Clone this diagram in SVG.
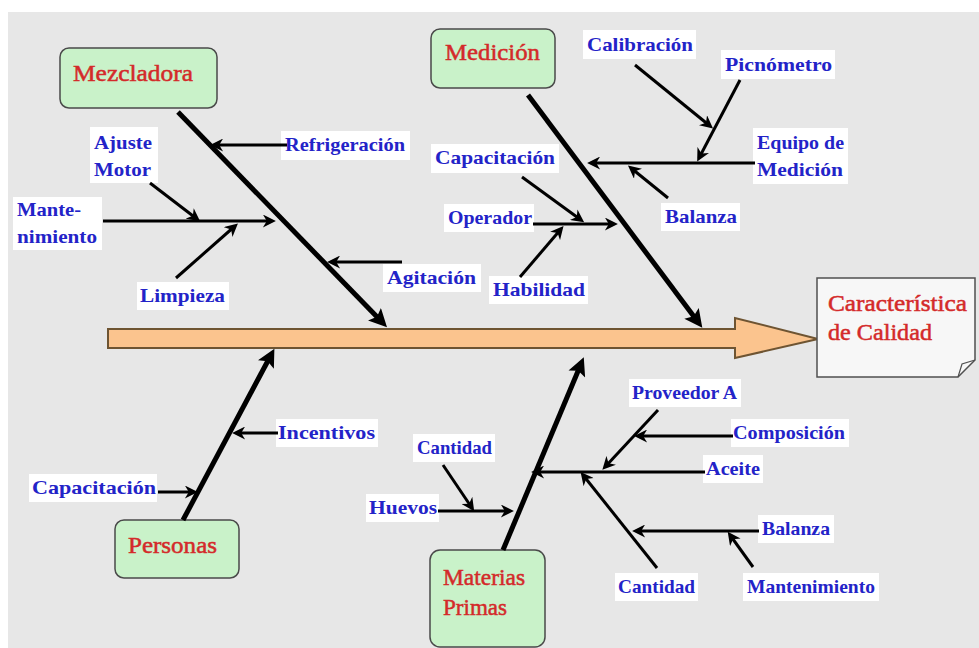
<svg xmlns="http://www.w3.org/2000/svg" width="979" height="648" viewBox="0 0 979 648">
<defs>
<style>
.lbl{font-family:"Liberation Serif","Times New Roman",serif;font-size:19px;font-weight:bold;fill:#2323c8}
.ttl{font-family:"Liberation Serif","Times New Roman",serif;font-size:23px;fill:#d42a2a;stroke:#d42a2a;stroke-width:0.5}
.bg{fill:#ffffff}
.box{fill:#c9f2c9;stroke:#4a4a4a;stroke-width:1.5}
.sub{stroke:#000;stroke-width:3;fill:none;marker-end:url(#ah)}
.main{stroke:#000;stroke-width:5;fill:none;marker-end:url(#ahb)}
</style>
<marker id="ah" viewBox="0 0 10 10" refX="7" refY="5" markerWidth="14" markerHeight="13" markerUnits="userSpaceOnUse" orient="auto"><path d="M0,0 L10,5 L0,10 L3,5 Z" fill="#000"/></marker>
<marker id="ahb" viewBox="0 0 10 10" refX="6" refY="5" markerWidth="20" markerHeight="18" markerUnits="userSpaceOnUse" orient="auto"><path d="M0,0 L10,5 L0,10 L2,5 Z" fill="#000"/></marker>
</defs>
<rect x="0" y="0" width="979" height="648" fill="#ffffff"/>
<rect x="8" y="12" width="971" height="636" fill="#e7e7e7"/>

<g id="spine">
<path d="M108,329 H735 V318 L818,339 L735,358 V348 H108 Z" fill="#fbc48e" stroke="#6e5432" stroke-width="2"/>
</g>

<g id="effect">
<path d="M817,278 H975 V360 L958,377 H817 Z" fill="#f7f7f7" stroke="#505050" stroke-width="1.5"/>
<path d="M958,377 L962,364 L975,360" fill="none" stroke="#505050" stroke-width="1.2"/>
<text class="ttl" x="828" y="311" textLength="139" lengthAdjust="spacingAndGlyphs">Característica</text>
<text class="ttl" x="828" y="340" textLength="104" lengthAdjust="spacingAndGlyphs">de Calidad</text>
</g>

<g id="mezcladora">
<rect class="box" x="60" y="48" width="157" height="60" rx="9"/>
<text class="ttl" x="73" y="81" textLength="120" lengthAdjust="spacingAndGlyphs">Mezcladora</text>
</g>
<g id="medicion">
<rect class="box" x="431" y="29" width="124" height="59" rx="9"/>
<text class="ttl" x="445" y="60" textLength="95" lengthAdjust="spacingAndGlyphs">Medición</text>
</g>
<g id="personas">
<rect class="box" x="115" y="520" width="124" height="58" rx="9"/>
<text class="ttl" x="128" y="553" textLength="89" lengthAdjust="spacingAndGlyphs">Personas</text>
</g>
<g id="materias">
<rect class="box" x="430" y="550" width="115" height="97" rx="10"/>
<text class="ttl" x="443" y="585" textLength="82" lengthAdjust="spacingAndGlyphs">Materias</text>
<text class="ttl" x="443" y="615" textLength="64" lengthAdjust="spacingAndGlyphs">Primas</text>
</g>

<g id="labels">
<rect class="bg" x="281" y="131" width="129" height="29"/>
<text class="lbl" x="285" y="151" textLength="120" lengthAdjust="spacingAndGlyphs">Refrigeración</text>
<rect class="bg" x="90" y="127" width="68" height="56"/>
<text class="lbl" x="94" y="149" textLength="58" lengthAdjust="spacingAndGlyphs">Ajuste</text>
<text class="lbl" x="94" y="176" textLength="57" lengthAdjust="spacingAndGlyphs">Motor</text>
<rect class="bg" x="13" y="197" width="89" height="53"/>
<text class="lbl" x="17" y="216" textLength="64" lengthAdjust="spacingAndGlyphs">Mante-</text>
<text class="lbl" x="17" y="243" textLength="80" lengthAdjust="spacingAndGlyphs">nimiento</text>
<rect class="bg" x="137" y="282" width="92" height="28"/>
<text class="lbl" x="140" y="302" textLength="85" lengthAdjust="spacingAndGlyphs">Limpieza</text>
<rect class="bg" x="383" y="264" width="98" height="28"/>
<text class="lbl" x="387" y="284" textLength="89" lengthAdjust="spacingAndGlyphs">Agitación</text>
<rect class="bg" x="583" y="30" width="113" height="29"/>
<text class="lbl" x="587" y="51" textLength="106" lengthAdjust="spacingAndGlyphs">Calibración</text>
<rect class="bg" x="721" y="50" width="114" height="29"/>
<text class="lbl" x="725" y="71" textLength="107" lengthAdjust="spacingAndGlyphs">Picnómetro</text>
<rect class="bg" x="753" y="128" width="95" height="56"/>
<text class="lbl" x="757" y="149" textLength="87" lengthAdjust="spacingAndGlyphs">Equipo de</text>
<text class="lbl" x="757" y="176" textLength="86" lengthAdjust="spacingAndGlyphs">Medición</text>
<rect class="bg" x="431" y="144" width="128" height="29"/>
<text class="lbl" x="435" y="164" textLength="120" lengthAdjust="spacingAndGlyphs">Capacitación</text>
<rect class="bg" x="444" y="204" width="90" height="28"/>
<text class="lbl" x="448" y="224" textLength="84" lengthAdjust="spacingAndGlyphs">Operador</text>
<rect class="bg" x="661" y="203" width="79" height="28"/>
<text class="lbl" x="665" y="223" textLength="72" lengthAdjust="spacingAndGlyphs">Balanza</text>
<rect class="bg" x="489" y="276" width="99" height="28"/>
<text class="lbl" x="493" y="296" textLength="92" lengthAdjust="spacingAndGlyphs">Habilidad</text>
<rect class="bg" x="276" y="419" width="102" height="28"/>
<text class="lbl" x="278" y="439" textLength="97" lengthAdjust="spacingAndGlyphs">Incentivos</text>
<rect class="bg" x="29" y="474" width="128" height="28"/>
<text class="lbl" x="32" y="494" textLength="124" lengthAdjust="spacingAndGlyphs">Capacitación</text>
<rect class="bg" x="413" y="434" width="82" height="28"/>
<text class="lbl" x="417" y="454" textLength="75" lengthAdjust="spacingAndGlyphs">Cantidad</text>
<rect class="bg" x="366" y="494" width="73" height="28"/>
<text class="lbl" x="369" y="514" textLength="68" lengthAdjust="spacingAndGlyphs">Huevos</text>
<rect class="bg" x="629" y="379" width="112" height="28"/>
<text class="lbl" x="632" y="399" textLength="105" lengthAdjust="spacingAndGlyphs">Proveedor A</text>
<rect class="bg" x="731" y="419" width="118" height="28"/>
<text class="lbl" x="733" y="439" textLength="112" lengthAdjust="spacingAndGlyphs">Composición</text>
<rect class="bg" x="703" y="455" width="60" height="28"/>
<text class="lbl" x="706" y="475" textLength="54" lengthAdjust="spacingAndGlyphs">Aceite</text>
<rect class="bg" x="758" y="515" width="76" height="28"/>
<text class="lbl" x="762" y="535" textLength="68" lengthAdjust="spacingAndGlyphs">Balanza</text>
<rect class="bg" x="615" y="573" width="83" height="28"/>
<text class="lbl" x="618" y="593" textLength="77" lengthAdjust="spacingAndGlyphs">Cantidad</text>
<rect class="bg" x="743" y="573" width="136" height="28"/>
<text class="lbl" x="747" y="593" textLength="128" lengthAdjust="spacingAndGlyphs">Mantenimiento</text>
</g>

<g id="connectors">
<line class="main" x1="178" y1="112" x2="382" y2="322"/>
<line class="main" x1="528" y1="95" x2="698" y2="322"/>
<line class="main" x1="183" y1="520" x2="271" y2="355"/>
<line class="main" x1="503" y1="550" x2="581" y2="364"/>

<line class="sub" x1="287" y1="145" x2="214" y2="145"/>
<line class="sub" x1="150" y1="183" x2="197" y2="219"/>
<line class="sub" x1="103" y1="221" x2="272" y2="221"/>
<line class="sub" x1="176" y1="278" x2="235" y2="226"/>
<line class="sub" x1="402" y1="262" x2="331" y2="262"/>

<line class="sub" x1="635" y1="65" x2="710" y2="126"/>
<line class="sub" x1="740" y1="80" x2="699" y2="158"/>
<line class="sub" x1="755" y1="163" x2="591" y2="163"/>
<line class="sub" x1="668" y1="198" x2="631" y2="168"/>
<line class="sub" x1="522" y1="177" x2="581" y2="220"/>
<line class="sub" x1="533" y1="224" x2="614" y2="224"/>
<line class="sub" x1="520" y1="277" x2="561" y2="229"/>

<line class="sub" x1="278" y1="433" x2="236" y2="433"/>
<line class="sub" x1="158" y1="492" x2="194" y2="492"/>
<line class="sub" x1="443" y1="465" x2="472" y2="508"/>
<line class="sub" x1="438" y1="511" x2="510" y2="511"/>
<line class="sub" x1="705" y1="472" x2="535" y2="472"/>
<line class="sub" x1="658" y1="410" x2="605" y2="467"/>
<line class="sub" x1="733" y1="436" x2="638" y2="436"/>
<line class="sub" x1="657" y1="568" x2="583" y2="475"/>
<line class="sub" x1="759" y1="531" x2="636" y2="531"/>
<line class="sub" x1="753" y1="567" x2="730" y2="535"/>
</g>
</svg>
